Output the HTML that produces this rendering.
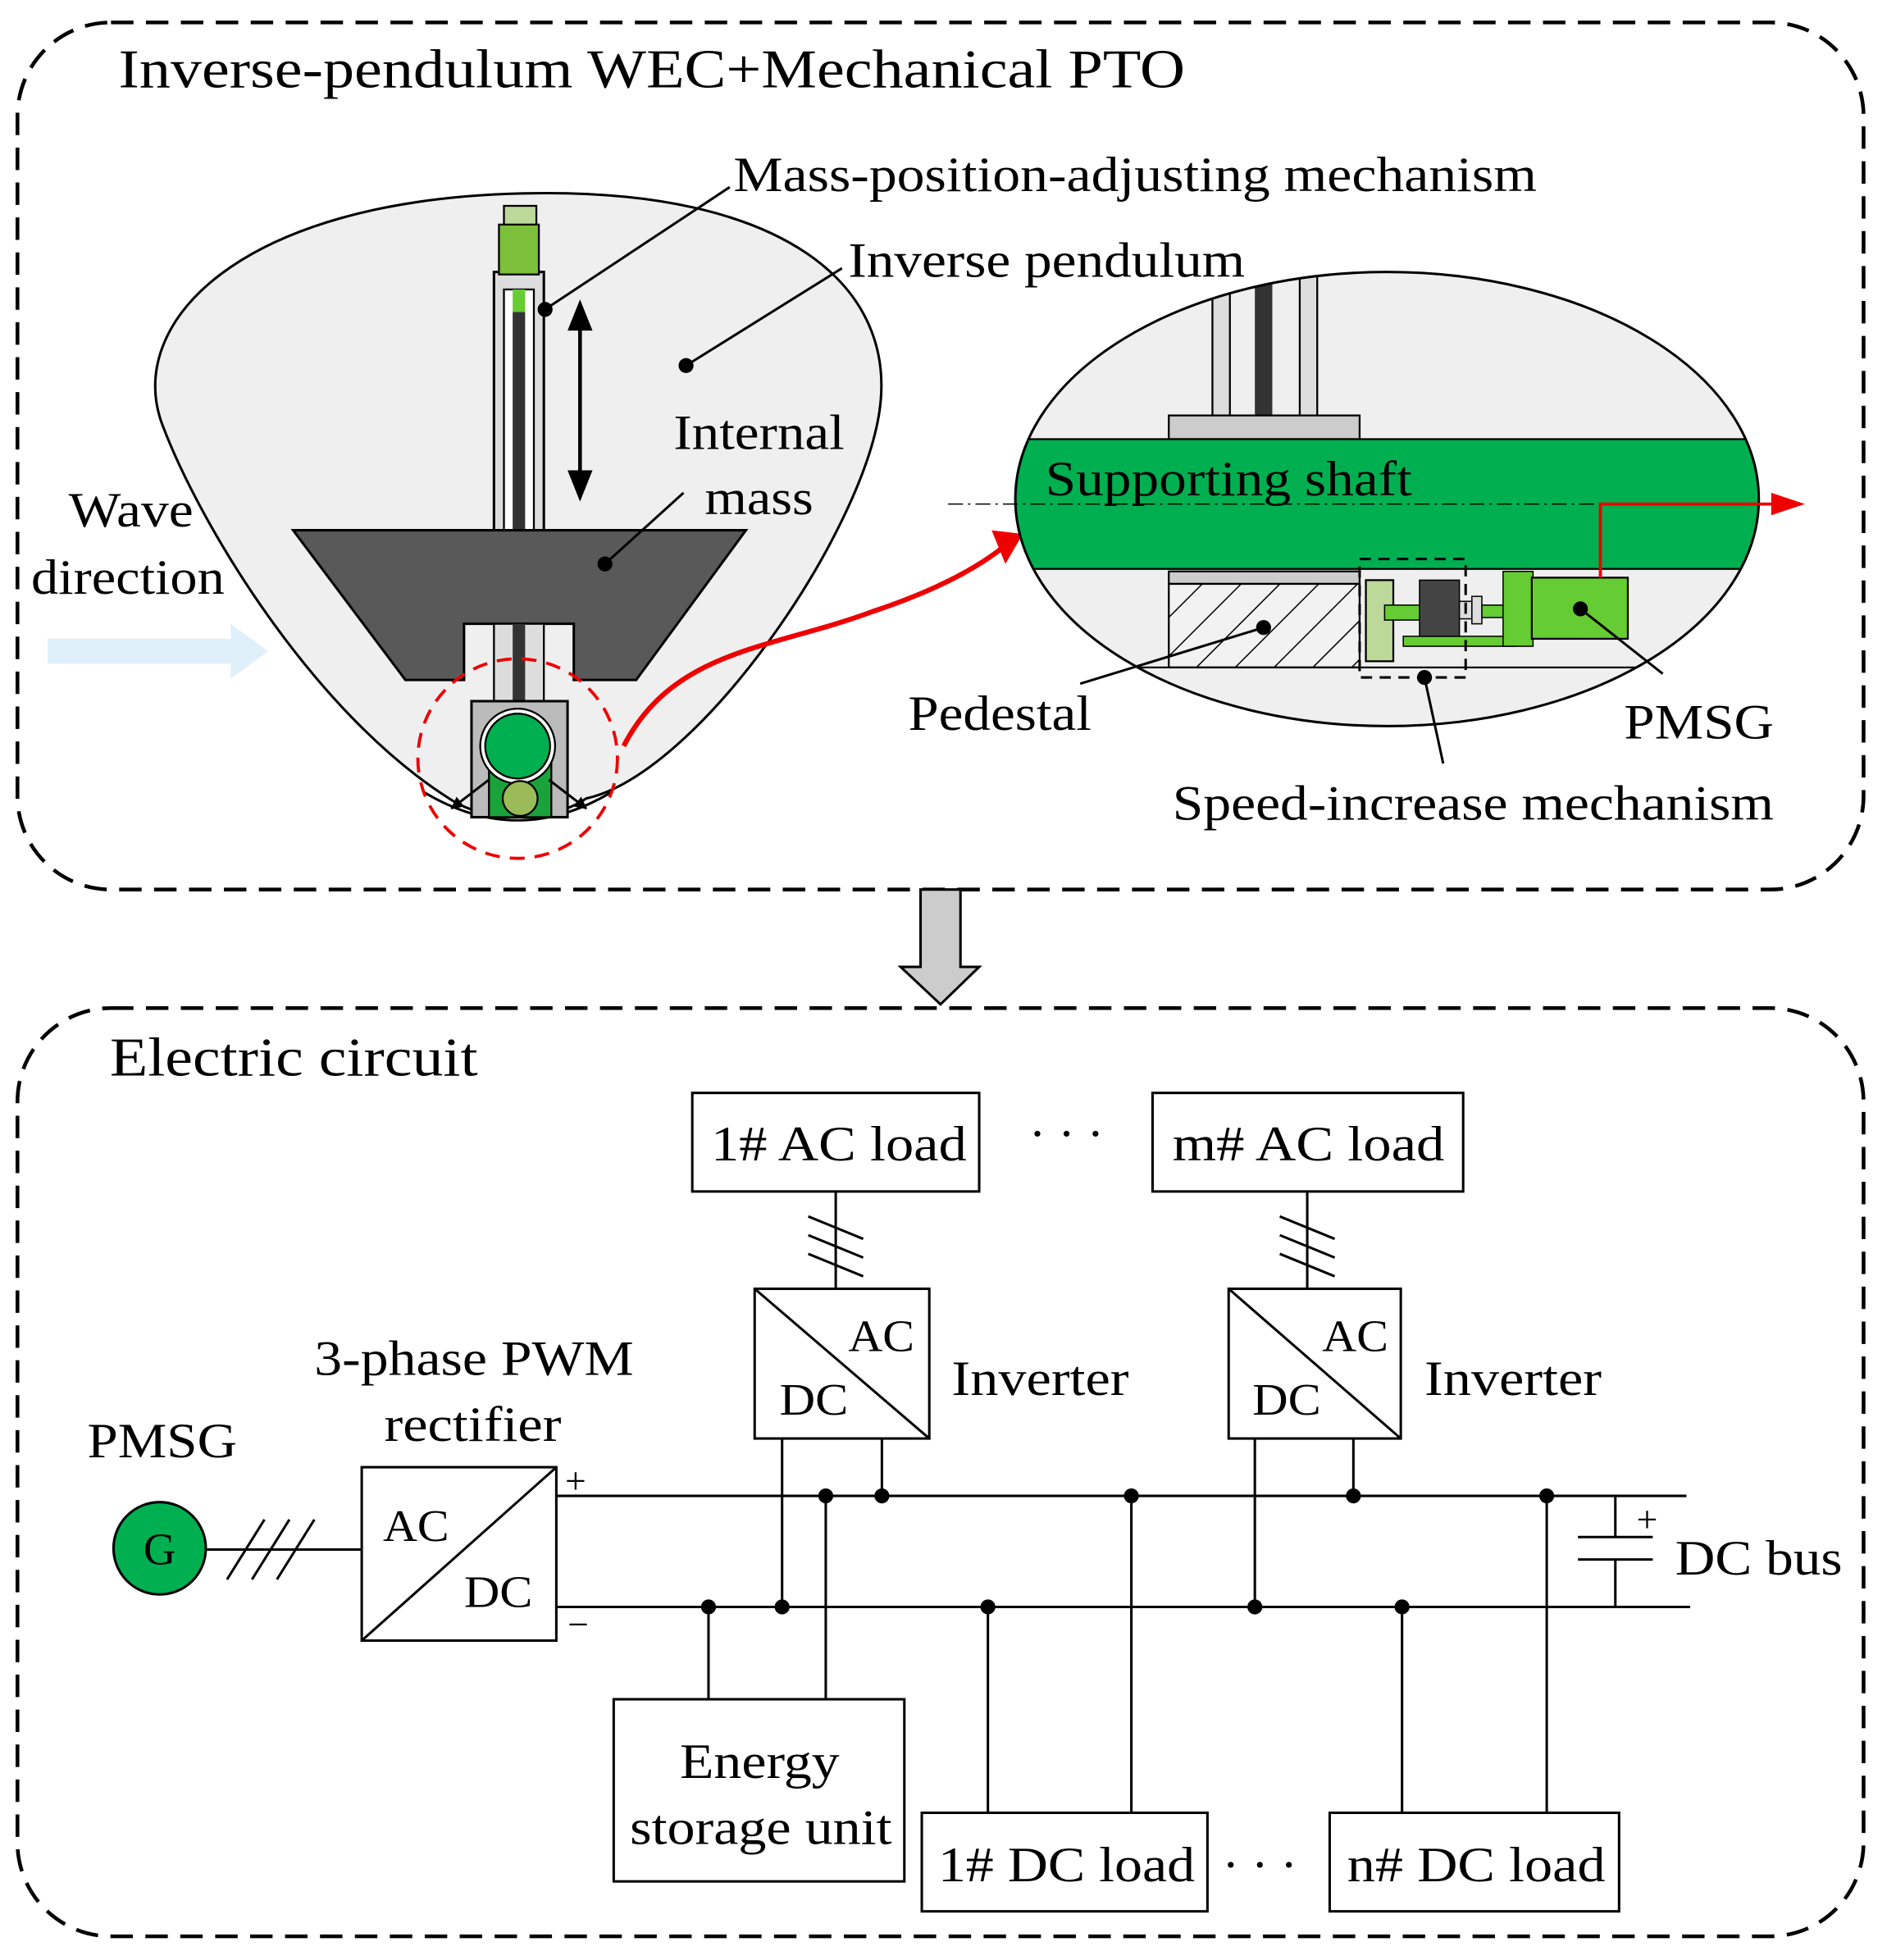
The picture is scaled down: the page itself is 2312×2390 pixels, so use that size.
<!DOCTYPE html>
<html><head><meta charset="utf-8"><style>
html,body{margin:0;padding:0;background:#fff;}
svg{display:block;}
text{font-family:"Liberation Serif",serif;fill:#000;}
</style></head><body>
<svg width="2312" height="2390" viewBox="0 0 1520 1571" preserveAspectRatio="none" xmlns="http://www.w3.org/2000/svg">
<defs>
<clipPath id="ell"><ellipse cx="1112" cy="400" rx="298" ry="182"/></clipPath>
<pattern id="hatch" width="22" height="22" patternUnits="userSpaceOnUse" patternTransform="rotate(45)">
<rect width="22" height="22" fill="#f2f2f2"/><line x1="0" y1="0" x2="0" y2="22" stroke="#000" stroke-width="2"/></pattern>
<marker id="ah" markerWidth="10" markerHeight="10" refX="9" refY="5" orient="auto" markerUnits="userSpaceOnUse"><path d="M0,0 L10,5 L0,10z" fill="#000"/></marker>
</defs>
<rect x="14" y="18" width="1480" height="695" rx="75" fill="none" stroke="#000" stroke-width="3" stroke-dasharray="18,10"/>
<text x="95" y="70" font-size="44" textLength="855" lengthAdjust="spacingAndGlyphs">Inverse-pendulum WEC+Mechanical PTO</text>
<path d="M130,340 C100,260 190,160 420,155 C630,150 720,230 705,330 C690,430 560,620 470,640 C440,660 390,660 360,640 C250,570 160,420 130,340Z" fill="#efefef" stroke="#000" stroke-width="2"/>
<path d="M340,635 Q415,680 490,635" fill="none" stroke="#000" stroke-width="2"/>
<text x="55" y="422" font-size="40" textLength="100" lengthAdjust="spacingAndGlyphs">Wave</text>
<text x="25" y="476" font-size="40" textLength="155" lengthAdjust="spacingAndGlyphs">direction</text>
<path d="M38,512 L185,512 L185,500 L215,522 L185,544 L185,532 L38,532Z" fill="#dbeefa" opacity="0.9"/>
<rect x="396" y="218" width="40" height="210" fill="#ddd" stroke="#000" stroke-width="2"/>
<rect x="404" y="232" width="24" height="196" fill="#fff" stroke="#000" stroke-width="1.5"/>
<rect x="411" y="250" width="10" height="178" fill="#333"/>
<rect x="411" y="232" width="10" height="18" fill="#6c3"/>
<rect x="404" y="165" width="26" height="18" fill="#bcd99a" stroke="#000" stroke-width="1.5"/>
<rect x="400" y="180" width="32" height="40" fill="#7cbf3a" stroke="#000" stroke-width="1.5"/>
<path d="M235,425 L598,425 L510,545 L460,545 L460,500 L372,500 L372,545 L325,545Z" fill="#595959" stroke="#000" stroke-width="2"/>
<rect x="396" y="500" width="40" height="62" fill="#ddd" stroke="#000" stroke-width="1.5"/>
<rect x="411" y="500" width="10" height="62" fill="#333"/>
<rect x="378" y="562" width="77" height="93" fill="#bbb" stroke="#000" stroke-width="2"/>
<rect x="392" y="610" width="50" height="45" fill="#1aa33a" stroke="#000" stroke-width="1.5"/>
<circle cx="415" cy="598" r="30" fill="#fff" stroke="#000" stroke-width="1.5"/>
<circle cx="415" cy="598" r="26" fill="#00b050" stroke="#000" stroke-width="1.5"/>
<circle cx="417" cy="640" r="14" fill="#9bbb59" stroke="#000" stroke-width="1.5"/>
<line x1="392" y1="625" x2="362" y2="648" stroke="#000" stroke-width="2" marker-end="url(#ah)"/>
<line x1="440" y1="625" x2="470" y2="648" stroke="#000" stroke-width="2" marker-end="url(#ah)"/>
<circle cx="415" cy="608" r="80" fill="none" stroke="#e00" stroke-width="2.5" stroke-dasharray="12,8"/>
<line x1="465" y1="262" x2="465" y2="380" stroke="#000" stroke-width="3"/>
<path d="M455,265 L465,240 L475,265Z M455,377 L465,402 L475,377Z" fill="#000"/>
<line x1="437" y1="248" x2="585" y2="150" stroke="#000" stroke-width="2"/><circle cx="437" cy="248" r="6" fill="#000"/>
<line x1="550" y1="293" x2="675" y2="215" stroke="#000" stroke-width="2"/><circle cx="550" cy="293" r="6" fill="#000"/>
<line x1="485" y1="452" x2="548" y2="395" stroke="#000" stroke-width="2"/><circle cx="485" cy="452" r="6" fill="#000"/>
<text x="588" y="153" font-size="40" textLength="644" lengthAdjust="spacingAndGlyphs">Mass-position-adjusting mechanism</text>
<text x="680" y="222" font-size="40" textLength="318" lengthAdjust="spacingAndGlyphs">Inverse pendulum</text>
<text x="540" y="360" font-size="40" textLength="137" lengthAdjust="spacingAndGlyphs">Internal</text>
<text x="565" y="412" font-size="40" textLength="87" lengthAdjust="spacingAndGlyphs">mass</text>
<path d="M500,598 C540,520 620,520 700,490 C760,470 790,450 805,438" fill="none" stroke="#e00" stroke-width="4"/>
<path d="M795,425 L820,428 L806,452Z" fill="#e00"/>
<ellipse cx="1112" cy="400" rx="298" ry="182" fill="#efefef"/>
<g clip-path="url(#ell)">
<rect x="972" y="215" width="14" height="120" fill="#ddd" stroke="#000" stroke-width="1.5"/>
<rect x="1042" y="215" width="14" height="120" fill="#ddd" stroke="#000" stroke-width="1.5"/>
<rect x="1006" y="215" width="14" height="120" fill="#333"/>
<rect x="937" y="333" width="153" height="19" fill="#ccc" stroke="#000" stroke-width="1.5"/>
<rect x="800" y="352" width="620" height="104" fill="#00b050" stroke="#000" stroke-width="1.5"/>
<rect x="937" y="458" width="153" height="10" fill="#ccc" stroke="#000" stroke-width="1.5"/>
<rect x="937" y="468" width="153" height="67" fill="url(#hatch)" stroke="#000" stroke-width="1.5"/>
<rect x="1095" y="465" width="22" height="65" fill="#bcd99a" stroke="#000" stroke-width="1.5"/>
<rect x="1110" y="485" width="30" height="12" fill="#6c3" stroke="#000"/>
<rect x="1125" y="510" width="90" height="8" fill="#6c3" stroke="#000"/>
<rect x="1138" y="465" width="32" height="45" fill="#444" stroke="#000"/>
<rect x="1170" y="482" width="10" height="14" fill="#ddd" stroke="#000"/>
<rect x="1180" y="478" width="8" height="22" fill="#ddd" stroke="#000"/>
<rect x="1188" y="485" width="30" height="10" fill="#6c3" stroke="#000"/>
<rect x="1205" y="458" width="24" height="60" fill="#6c3" stroke="#000"/>
<rect x="1228" y="463" width="77" height="49" fill="#6c3" stroke="#000" stroke-width="1.5"/>
<rect x="1090" y="448" width="85" height="95" fill="none" stroke="#000" stroke-width="2" stroke-dasharray="9,6"/>
<line x1="800" y1="535" x2="1420" y2="535" stroke="#000" stroke-width="1.5"/>
</g>
<ellipse cx="1112" cy="400" rx="298" ry="182" fill="none" stroke="#000" stroke-width="2"/>
<line x1="760" y1="404" x2="1290" y2="404" stroke="#000" stroke-width="1" stroke-dasharray="12,4,2,4"/>
<path d="M1283,463 L1283,404 L1425,404" fill="none" stroke="#e00" stroke-width="2.5"/>
<path d="M1420,395 L1447,404 L1420,413Z" fill="#e00"/>
<text x="838" y="397" font-size="40" textLength="294" lengthAdjust="spacingAndGlyphs">Supporting shaft</text>
<line x1="1013" y1="503" x2="866" y2="548" stroke="#000" stroke-width="2"/><circle cx="1013" cy="503" r="6" fill="#000"/>
<line x1="1142" y1="543" x2="1157" y2="612" stroke="#000" stroke-width="2"/><circle cx="1142" cy="543" r="6" fill="#000"/>
<line x1="1267" y1="488" x2="1333" y2="540" stroke="#000" stroke-width="2"/><circle cx="1267" cy="488" r="6" fill="#000"/>
<text x="728" y="585" font-size="40" textLength="147" lengthAdjust="spacingAndGlyphs">Pedestal</text>
<text x="1302" y="592" font-size="40" textLength="120" lengthAdjust="spacingAndGlyphs">PMSG</text>
<text x="940" y="657" font-size="40" textLength="482" lengthAdjust="spacingAndGlyphs">Speed-increase mechanism</text>
<path d="M738,713 L770,713 L770,775 L785,775 L754,805 L722,775 L738,775Z" fill="#ccc" stroke="#000" stroke-width="2"/>
<rect x="14" y="808" width="1480" height="744" rx="75" fill="none" stroke="#000" stroke-width="3" stroke-dasharray="18,10"/>
<text x="88" y="862" font-size="44" textLength="295" lengthAdjust="spacingAndGlyphs">Electric circuit</text>
<g stroke="#000" stroke-width="2" fill="none">
<rect x="555" y="876" width="230" height="79" fill="#fff"/>
<rect x="924" y="876" width="249" height="79" fill="#fff"/>
<line x1="670" y1="955" x2="670" y2="1033"/><line x1="1048" y1="955" x2="1048" y2="1033"/>
<path d="M648,975 L692,993 M648,990 L692,1008 M648,1005 L692,1023"/>
<path d="M1026,975 L1070,993 M1026,990 L1070,1008 M1026,1005 L1070,1023"/>
<rect x="605" y="1033" width="140" height="120"/><line x1="605" y1="1033" x2="745" y2="1153"/>
<rect x="985" y="1033" width="138" height="120"/><line x1="985" y1="1033" x2="1123" y2="1153"/>
<rect x="290" y="1176" width="156" height="139"/><line x1="290" y1="1315" x2="446" y2="1176"/>
<line x1="165" y1="1242" x2="290" y2="1242"/>
<path d="M182,1266 L212,1218 M202,1266 L232,1218 M222,1266 L252,1218"/>
<line x1="446" y1="1199" x2="1352" y2="1199"/>
<line x1="446" y1="1288" x2="1355" y2="1288"/>
<line x1="627" y1="1153" x2="627" y2="1288"/><line x1="707" y1="1153" x2="707" y2="1199"/>
<line x1="1006" y1="1153" x2="1006" y2="1288"/><line x1="1085" y1="1153" x2="1085" y2="1199"/>
<line x1="1295" y1="1199" x2="1295" y2="1232"/><line x1="1265" y1="1232" x2="1325" y2="1232"/>
<line x1="1265" y1="1250" x2="1325" y2="1250"/><line x1="1295" y1="1250" x2="1295" y2="1288"/>
<rect x="492" y="1362" width="233" height="146"/>
<line x1="568" y1="1288" x2="568" y2="1362"/><line x1="662" y1="1199" x2="662" y2="1362"/>
<rect x="739" y="1453" width="229" height="79"/>
<line x1="792" y1="1288" x2="792" y2="1453"/><line x1="907" y1="1199" x2="907" y2="1453"/>
<rect x="1066" y="1453" width="232" height="79"/>
<line x1="1124" y1="1288" x2="1124" y2="1453"/><line x1="1240" y1="1199" x2="1240" y2="1453"/>
</g>
<g fill="#000">
<circle cx="627" cy="1288" r="6"/><circle cx="707" cy="1199" r="6"/><circle cx="1006" cy="1288" r="6"/><circle cx="1085" cy="1199" r="6"/>
<circle cx="568" cy="1288" r="6"/><circle cx="662" cy="1199" r="6"/><circle cx="792" cy="1288" r="6"/><circle cx="907" cy="1199" r="6"/>
<circle cx="1124" cy="1288" r="6"/><circle cx="1240" cy="1199" r="6"/>
</g>
<circle cx="128" cy="1241" r="37" fill="#00b050" stroke="#000" stroke-width="2"/>
<text x="128" y="1254" font-size="36" text-anchor="middle">G</text>
<text x="570" y="930" font-size="40" textLength="205" lengthAdjust="spacingAndGlyphs">1# AC load</text>
<text x="940" y="930" font-size="40" textLength="218" lengthAdjust="spacingAndGlyphs">m# AC load</text>
<text x="825" y="922" font-size="40">· · ·</text>
<text x="680" y="1083" font-size="36" textLength="53" lengthAdjust="spacingAndGlyphs">AC</text><text x="625" y="1134" font-size="36" textLength="55" lengthAdjust="spacingAndGlyphs">DC</text>
<text x="1060" y="1083" font-size="36" textLength="53" lengthAdjust="spacingAndGlyphs">AC</text><text x="1004" y="1134" font-size="36" textLength="55" lengthAdjust="spacingAndGlyphs">DC</text>
<text x="763" y="1118" font-size="40" textLength="142" lengthAdjust="spacingAndGlyphs">Inverter</text><text x="1142" y="1118" font-size="40" textLength="142" lengthAdjust="spacingAndGlyphs">Inverter</text>
<text x="307" y="1235" font-size="36" textLength="53" lengthAdjust="spacingAndGlyphs">AC</text><text x="372" y="1288" font-size="36" textLength="55" lengthAdjust="spacingAndGlyphs">DC</text>
<text x="252" y="1102" font-size="40" textLength="256" lengthAdjust="spacingAndGlyphs">3-phase PWM</text><text x="308" y="1155" font-size="40" textLength="142" lengthAdjust="spacingAndGlyphs">rectifier</text>
<text x="70" y="1168" font-size="40" textLength="120" lengthAdjust="spacingAndGlyphs">PMSG</text>
<text x="453" y="1197" font-size="30">+</text><text x="455" y="1312" font-size="30">−</text>
<text x="1312" y="1228" font-size="30">+</text>
<text x="1343" y="1262" font-size="40" textLength="134" lengthAdjust="spacingAndGlyphs">DC bus</text>
<text x="545" y="1425" font-size="40" textLength="128" lengthAdjust="spacingAndGlyphs">Energy</text><text x="505" y="1478" font-size="40" textLength="210" lengthAdjust="spacingAndGlyphs">storage unit</text>
<text x="752" y="1508" font-size="40" textLength="206" lengthAdjust="spacingAndGlyphs">1# DC load</text>
<text x="980" y="1508" font-size="40">· · ·</text>
<text x="1080" y="1508" font-size="40" textLength="207" lengthAdjust="spacingAndGlyphs">n# DC load</text>
</svg>
</body></html>
